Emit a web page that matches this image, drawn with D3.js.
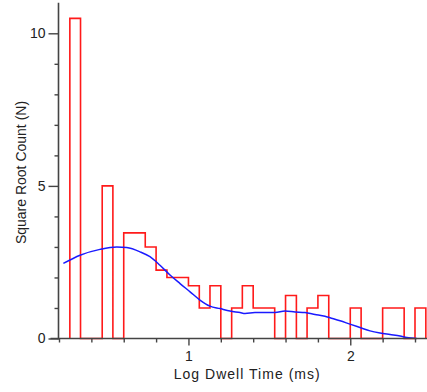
<!DOCTYPE html>
<html>
<head>
<meta charset="utf-8">
<script src="https://cdn.jsdelivr.net/npm/d3@7"></script>
<style>
  html, body { margin: 0; padding: 0; background: #fff; }
  svg { display: block; }
  text { font-family: "Liberation Sans", Arial, sans-serif; fill: #222; }
</style>
</head>
<body>
<script>
// ---- Data ----
// Histogram bin left edges (log10 dwell time, ms) and square-root counts
const binLeft = [0.267, 0.333, 0.400, 0.467, 0.533, 0.600, 0.667, 0.733, 0.800, 0.867,
                 0.933, 1.000, 1.067, 1.133, 1.200, 1.267, 1.333, 1.400, 1.467, 1.533,
                 1.600, 1.667, 1.733, 1.800, 1.867, 1.933, 2.000, 2.067, 2.133, 2.200,
                 2.267, 2.333, 2.400];
const binEnd = 2.467;
const sqrtCounts = [10.49, 0, 0, 5.0, 0, 3.46, 3.46, 3.0, 2.24, 2.0,
                    2.0, 1.73, 1.0, 1.73, 0, 1.0, 1.73, 1.0, 1.0, 0,
                    1.41, 0, 1.0, 1.41, 0, 0, 1.0, 0, 0, 1.0,
                    1.0, 0, 1.0];
// Fitted curve (blue)
const fitX = [0.227, 0.330, 0.453, 0.557, 0.618, 0.701, 0.762, 0.824, 0.886, 0.948,
              1.010, 1.071, 1.133, 1.195, 1.257, 1.319, 1.350, 1.411, 1.473, 1.535,
              1.597, 1.659, 1.720, 1.782, 1.844, 1.875, 1.937, 1.998, 2.060, 2.122,
              2.184, 2.246, 2.308, 2.349, 2.411];
const fitY = [2.46, 2.73, 2.92, 3.00, 2.98, 2.84, 2.68, 2.40, 2.08, 1.80,
              1.53, 1.26, 1.06, 0.98, 0.90, 0.85, 0.82, 0.85, 0.85, 0.85,
              0.90, 0.87, 0.85, 0.79, 0.73, 0.68, 0.58, 0.47, 0.36, 0.25,
              0.18, 0.13, 0.08, 0.03, 0.00];
// Ticks
const xMajorTicks = [1, 2];
const xMinorTicks = [0.2, 0.4, 0.6, 0.8, 1.2, 1.4, 1.6, 1.8, 2.2, 2.4];
const yMajorTicks = [0, 5, 10];
const yMinorTicks = [1, 2, 3, 4, 6, 7, 8, 9];
const xTitle = "Log Dwell Time (ms)";
const yTitle = "Square Root Count (N)";

// ---- Layout ----
const W = 427, H = 392;
const svg = d3.select("body").append("svg").attr("width", W).attr("height", H);

const x = d3.scaleLinear().domain([0.2, 2.4]).range([59, 415]);
const y = d3.scaleLinear().domain([0, 10]).range([338.5, 33.3]);
const axisColor = "#444";

// Histogram step outline
const pts = [];
const y0 = y(0);
pts.push([x(binLeft[0]), y0]);
binLeft.forEach((b, i) => {
  const r = i < binLeft.length - 1 ? binLeft[i + 1] : binEnd;
  pts.push([x(b), y(sqrtCounts[i])]);
  pts.push([x(r), y(sqrtCounts[i])]);
});
pts.push([x(binEnd), y0]);
svg.append("path")
  .attr("d", d3.line()(pts))
  .attr("fill", "none")
  .attr("stroke", "#ff1a1a")
  .attr("stroke-width", 1.6)
  .attr("stroke-linejoin", "miter");

// Fitted curve
const fit = fitX.map((v, i) => [v, fitY[i]]);
svg.append("path")
  .attr("d", d3.line().x(d => x(d[0])).y(d => y(d[1])).curve(d3.curveMonotoneX)(fit))
  .attr("fill", "none")
  .attr("stroke", "#1a1aff")
  .attr("stroke-width", 1.5);

// Axis lines
const xAxisY = y(0);
const yAxisX = x(0.2) - 0.5;
svg.append("line")
  .attr("x1", yAxisX - 8).attr("x2", W)
  .attr("y1", xAxisY).attr("y2", xAxisY)
  .attr("stroke", axisColor).attr("stroke-width", 1.6);
svg.append("line")
  .attr("x1", yAxisX).attr("x2", yAxisX)
  .attr("y1", y(11)).attr("y2", xAxisY + 1)
  .attr("stroke", axisColor).attr("stroke-width", 1.6);

// X axis ticks
const gx = svg.append("g").attr("transform", `translate(0,${xAxisY})`);
gx.call(d3.axisBottom(x).tickValues(xMajorTicks).tickSize(7).tickPadding(6).tickFormat(d3.format("d")));
const gxm = svg.append("g").attr("transform", `translate(0,${xAxisY})`);
gxm.call(d3.axisBottom(x).tickValues(xMinorTicks).tickSize(4).tickFormat(""));

// Y axis ticks
const gy = svg.append("g").attr("transform", `translate(${yAxisX},0)`);
gy.call(d3.axisLeft(y).tickValues(yMajorTicks).tickSize(10).tickPadding(3).tickFormat(d3.format("d")));
const gym = svg.append("g").attr("transform", `translate(${yAxisX},0)`);
gym.call(d3.axisLeft(y).tickValues(yMinorTicks).tickSize(4).tickFormat(""));

[gx, gxm, gy, gym].forEach(g => {
  g.select(".domain").remove();
  g.selectAll(".tick line").attr("stroke", axisColor).attr("stroke-width", 1.4);
  g.selectAll(".tick text").attr("font-size", 14).attr("font-family", "Liberation Sans, Arial, sans-serif").attr("fill", "#222");
});

// Titles
svg.append("text")
  .attr("x", 246.7).attr("y", 379)
  .attr("text-anchor", "middle")
  .attr("font-size", 14)
  .attr("textLength", 146)
  .attr("lengthAdjust", "spacing")
  .text(xTitle);
svg.append("text")
  .attr("transform", "translate(26,172.5) rotate(-90)")
  .attr("text-anchor", "middle")
  .attr("font-size", 14)
  .text(yTitle);
</script>
</body>
</html>
